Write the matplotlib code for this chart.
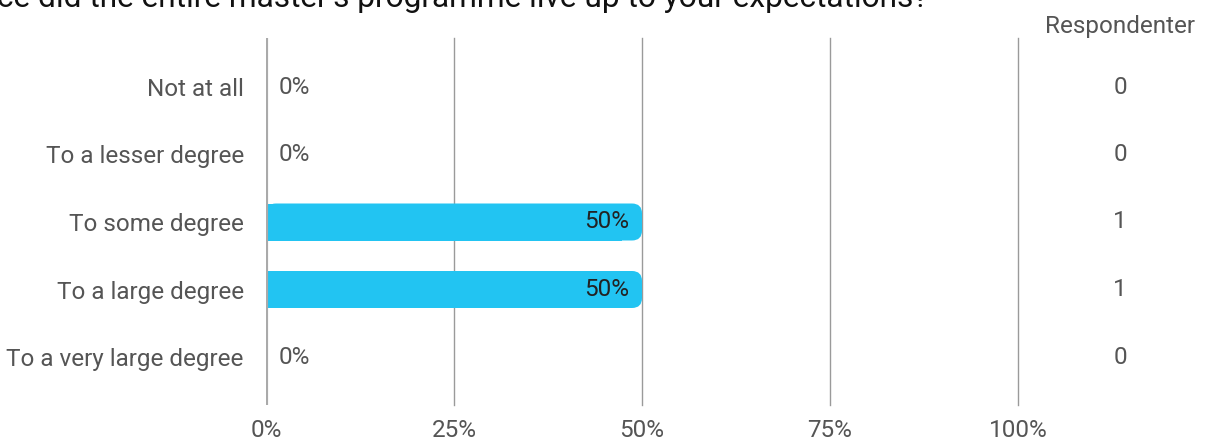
import matplotlib
matplotlib.use("Agg")
import matplotlib.pyplot as plt
from matplotlib.patches import FancyBboxPatch, Rectangle

plt.rcParams["font.family"] = ["Roboto", "DejaVu Sans"]

title = "ce did the entire master's programme live up to your expectations?"
categories = ["Not at all", "To a lesser degree", "To some degree",
              "To a large degree", "To a very large degree"]
percents = [0, 0, 50, 50, 0]
counts = [0, 0, 1, 1, 0]
xticks = [0, 25, 50, 75, 100]
xtick_labels = ["0%", "25%", "50%", "75%", "100%"]
count_header = "Respondenter"

W, H = 1212, 443
fig = plt.figure(figsize=(W / 100, H / 100), dpi=100)
ax = fig.add_axes([266 / W, 1 - 405 / H, 752 / W, 367 / H])

fs = 17.5
bar_color = "#22c4f2"
bar_h = 37 / 67.5
px_x = 100 / 752      # data units per pixel, x
px_y = 1 / 67.5       # data units per pixel, y
r = 10 * px_x

for i, v in enumerate(percents):
    if v > 0:
        ax.add_patch(FancyBboxPatch((0, i - bar_h / 2), v, bar_h,
                                    boxstyle=f"round,pad=0,rounding_size={r}",
                                    mutation_aspect=px_y / px_x,
                                    fc=bar_color, ec="none", zorder=2))
        ax.add_patch(Rectangle((0, i - bar_h / 2), v - 2 * r, bar_h,
                               fc=bar_color, ec="none", zorder=2))
        ax.text(v - 13 * px_x, i, f"{v}%", ha="right", va="center",
                fontsize=fs, color="#222222", zorder=3)
    else:
        ax.text(13 * px_x, i, f"{v}%", ha="left", va="center",
                fontsize=fs, color="#555555", zorder=3)

for x in xticks[1:]:
    ax.axvline(x, color="#9a9a9a", lw=1, zorder=1, clip_on=False)
ax.axvline(0, color="#aaaaaa", lw=3, zorder=4)

ax.set_xlim(0, 100)
ax.set_ylim(4 + 48 / 67.5, -49 / 67.5)
ax.set_xticks(xticks)
ax.set_xticklabels(xtick_labels, fontsize=fs, color="#555555")
ax.set_yticks(range(len(categories)))
ax.set_yticklabels(categories, fontsize=fs, color="#555555")
ax.tick_params(axis="x", length=0, pad=10)
ax.tick_params(axis="y", length=0, pad=16)
for s in ax.spines.values():
    s.set_visible(False)

# respondent counts column
for i, c in enumerate(counts):
    fig.text(1120 / W, 1 - (87 + i * 67.5) / H, str(c), ha="center",
             va="center", fontsize=fs, color="#555555")
fig.text(1120 / W, 1 - 26 / H, count_header, ha="center", va="center",
         fontsize=fs, color="#555555")

fig.text(-3 / W, 1 - 7 / H, title, ha="left", va="baseline",
         fontsize=22.8, color="#111111")

fig.savefig("out.png", dpi=100)
